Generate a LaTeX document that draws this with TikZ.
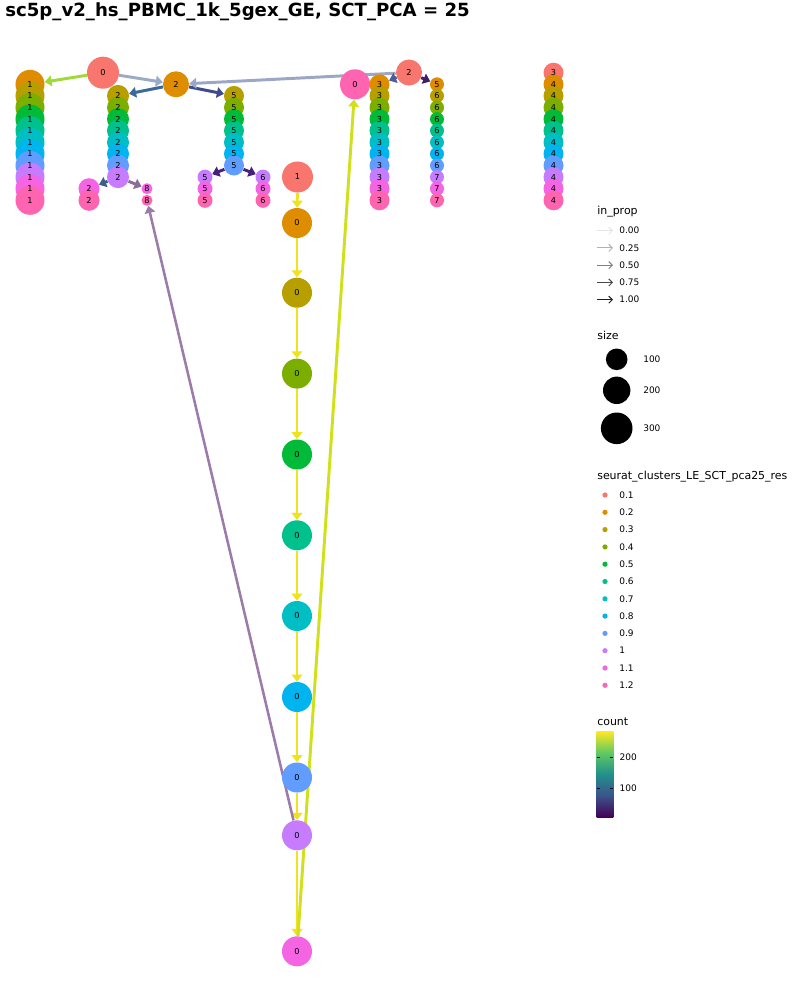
\documentclass[tikz,border=0pt]{standalone}
\usepackage{fontspec}
\setmainfont{DejaVu Sans}
\usepackage{tikz}
\usetikzlibrary{arrows.meta,backgrounds}
\usepackage{xcolor}

% cluster colours, one per resolution
\definecolor{res1}{HTML}{F8766D}
\definecolor{res2}{HTML}{DE8C00}
\definecolor{res3}{HTML}{B79F00}
\definecolor{res4}{HTML}{7CAE00}
\definecolor{res5}{HTML}{00BA38}
\definecolor{res6}{HTML}{00C08B}
\definecolor{res7}{HTML}{00BFC4}
\definecolor{res8}{HTML}{00B4F0}
\definecolor{res9}{HTML}{619CFF}
\definecolor{res10}{HTML}{C77CFF}
\definecolor{res11}{HTML}{F564E3}
\definecolor{res12}{HTML}{FF64B0}
% viridis
\definecolor{vir0}{HTML}{440154}
\definecolor{vir1}{HTML}{3B528B}
\definecolor{vir2}{HTML}{21908C}
\definecolor{vir3}{HTML}{5DC863}
\definecolor{vir4}{HTML}{FDE725}
\pgfdeclareverticalshading{viridis}{100bp}{color(0bp)=(vir0); color(25bp)=(vir0); color(37.5bp)=(vir1); color(50bp)=(vir2); color(62.5bp)=(vir3); color(75bp)=(vir4); color(100bp)=(vir4)}

\begin{document}
\begin{tikzpicture}[x=0.025cm, y=-0.025cm,
  clu/.style={circle, inner sep=0pt, minimum size=#1*1.4226pt},
  lbl/.style={inner sep=0pt, font=\fontsize{5.8}{6}\selectfont},
  edge/.style={line width=2.1pt, -{Triangle[length=5pt,width=7.5pt]}},
  legarrow/.style={line width=0.7pt, -{Straight Barb[length=2.5pt,width=5pt]}},
  leg/.style={anchor=west, inner sep=0pt, font=\fontsize{6.4}{7}\selectfont},
  legtitle/.style={anchor=west, inner sep=0pt, font=\fontsize{7.8}{9}\selectfont}]
  \useasboundingbox (0,0) rectangle (800,1000);

  \node[anchor=base west, inner sep=0pt, font=\bfseries\fontsize{12.9}{14}\selectfont] (title) at (5,16)
       {sc5p\_v2\_hs\_PBMC\_1k\_5gex\_GE, SCT\_PCA = 25};

  % clusters
  \node[clu=16, fill=res1] (r1a) at (103,72.7) {};
  \node[clu=15.5, fill=res1] (r1b) at (297.5,177) {};
  \node[clu=13, fill=res1] (r1c) at (409,72.5) {};
  \node[clu=10, fill=res1] (r1d) at (553.5,72.7) {};
  \foreach \i in {2,...,12}
    \node[clu=14.5, fill=res\i] (a\i) at (30,{61.1+11.6*\i}) {};
  \node[clu=13, fill=res2] (o2) at (176,84.3) {};
  \foreach \i in {3,...,10}
    \node[clu=11, fill=res\i] (b\i) at (118,{61.1+11.6*\i}) {};
  \foreach \i in {11,12} {
    \node[clu=10.5, fill=res\i] (bl\i) at (89,{61.1+11.6*\i}) {};
    \node[clu=5.5, fill=res\i] (br\i) at (147,{61.1+11.6*\i}) {};
  }
  \foreach \i in {3,...,9}
    \node[clu=10, fill=res\i] (e\i) at (234,{61.1+11.6*\i}) {};
  \foreach \i in {10,11,12} {
    \node[clu=7.5, fill=res\i] (el\i) at (205,{61.1+11.6*\i}) {};
    \node[clu=7.5, fill=res\i] (er\i) at (263,{61.1+11.6*\i}) {};
  }
  \foreach \i/\y in {2/223,3/292.7,4/373.6,5/454.5,6/535.3,7/616,8/697,9/777.5,10/835.3,11/951.3}
    \node[clu=15, fill=res\i] (z\i) at (297,\y) {};
  \node[clu=15, fill=res12] (z12) at (355,84.3) {};
  \foreach \i in {2,...,12}
    \node[clu=10, fill=res\i] (g\i) at (379.5,{61.1+11.6*\i}) {};
  \foreach \i in {2,...,12}
    \node[clu=7, fill=res\i] (h\i) at (437,{61.1+11.6*\i}) {};
  \foreach \i in {2,...,12}
    \node[clu=10, fill=res\i] (k\i) at (553.5,{61.1+11.6*\i}) {};

  % cluster labels
  \node[lbl] (tr1a) at (r1a) {0};
  \node[lbl] (tr1b) at (r1b) {1};
  \node[lbl] (tr1c) at (r1c) {2};
  \node[lbl] (tr1d) at (r1d) {3};
  \node[lbl] (to2) at (o2) {2};
  \foreach \i in {2,...,12} {
    \node[lbl] (ta\i) at (a\i) {1};
    \node[lbl] (tg\i) at (g\i) {3};
    \node[lbl] (tk\i) at (k\i) {4};
  }
  \foreach \i in {3,...,10} \node[lbl] (tb\i) at (b\i) {2};
  \foreach \i in {11,12} {
    \node[lbl] (tbl\i) at (bl\i) {2};
    \node[lbl] (tbr\i) at (br\i) {8};
  }
  \foreach \i in {3,...,9} \node[lbl] (te\i) at (e\i) {5};
  \foreach \i in {10,11,12} {
    \node[lbl] (tel\i) at (el\i) {5};
    \node[lbl] (ter\i) at (er\i) {6};
  }
  \foreach \i in {2,...,12} \node[lbl] (tz\i) at (z\i) {0};
  \node[lbl] (th2) at (h2) {5};
  \foreach \i in {3,...,9} \node[lbl] (th\i) at (h\i) {6};
  \foreach \i in {10,11,12} \node[lbl] (th\i) at (h\i) {7};

  % edges, under the clusters
  \begin{scope}[on background layer]
    \fill[white] (0,0) rectangle (800,1000);
    \draw[edge, color={rgb,255:red,160;green,218;blue,57}] (r1a) -- (a2);
    \draw[edge, color={rgb,255:red,154;green,171;blue,200}] (r1a) -- (o2);
    \draw[edge, color={rgb,255:red,58;green,107;blue,155}] (o2) -- (b3);
    \draw[edge, color={rgb,255:red,61;green,74;blue,141}] (o2) -- (e3);
    \draw[edge, color={rgb,255:red,156;green,166;blue,198}] (r1c) -- (o2);
    \draw[edge, color={rgb,255:red,74;green,94;blue,149}] (r1c) -- (g2);
    \draw[edge, color={rgb,255:red,62;green,31;blue,109}] (r1c) -- (h2);
    \draw[edge, color={rgb,255:red,61;green,94;blue,139}] (b10) -- (bl11);
    \draw[edge, color={rgb,255:red,141;green,107;blue,155}] (b10) -- (br11);
    \draw[edge, color={rgb,255:red,71;green,32;blue,122}] (e9) -- (el10);
    \draw[edge, color={rgb,255:red,71;green,32;blue,122}] (e9) -- (er10);
    \draw[edge, color={rgb,255:red,239;green,227;blue,31}] (r1b) -- (z2);
    \foreach \i [evaluate=\i as \j using int(\i+1)] in {2,...,10}
      \draw[edge, color={rgb,255:red,239;green,227;blue,31}] (z\i) -- (z\j);
    \draw[edge, line width=1.8pt, color={rgb,255:red,156;green,123;blue,168}] (z10) -- (br12);
    \draw[edge, color={rgb,255:red,208;green,225;blue,28}] (z11) -- (z12);
  \end{scope}

  % legend: in_prop
  \node[legtitle] (inprop) at (597,212) {in\_prop};
  \foreach \v/\c [count=\n] in {0.00/black!10, 0.25/black!30, 0.50/black!50, 0.75/black!72, 1.00/black!88} {
    \coordinate (ia\n) at (597,{213.45+17.25*\n});
    \coordinate (ib\n) at (613,{213.45+17.25*\n});
    \draw[legarrow, \c] (ia\n) -- (ib\n);
    \node[leg] (il\n) at (619,{213.45+17.25*\n}) {\v};
  }

  % legend: size
  \node[legtitle] (size) at (597,335) {size};
  \node[clu=10.8, fill=black] (s1) at (616.7,359.3) {};
  \node[clu=13.7, fill=black] (s2) at (616.7,390.3) {};
  \node[clu=15.8, fill=black] (s3) at (616.7,428.3) {};
  \node[leg] (sl1) at (643,359.3) {100};
  \node[leg] (sl2) at (643,390.3) {200};
  \node[leg] (sl3) at (643,428.3) {300};

  % legend: resolution
  \node[legtitle] (restitle) at (597,476.5) {seurat\_clusters\_LE\_SCT\_pca25\_res};
  \foreach \v [count=\n] in {0.1,0.2,0.3,0.4,0.5,0.6,0.7,0.8,0.9,1,1.1,1.2} {
    \node[clu=2.6, fill=res\n] (d\n) at (605,{477.7+17.3*\n}) {};
    \node[leg] (dl\n) at (619,{477.7+17.3*\n}) {\v};
  }

  % legend: count
  \node[legtitle] (count) at (597,721.7) {count};
  \shade[shading=viridis] (596.7,731.7) rectangle (613.3,817.3);
  \foreach \v/\y in {200/757.3,100/788} {
    \draw[black, line width=0.5pt] (596.7,\y) -- (599.7,\y);
    \draw[black, line width=0.5pt] (610.3,\y) -- (613.3,\y);
    \node[leg] (cl\v) at (619.3,\y) {\v};
  }
\end{tikzpicture}
\end{document}
